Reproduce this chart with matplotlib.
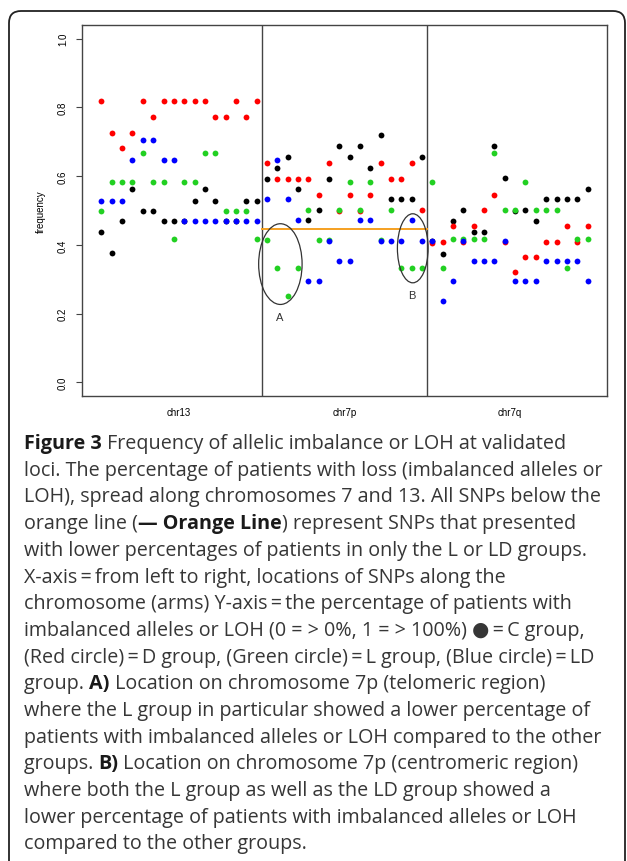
import matplotlib
matplotlib.use("Agg")
import matplotlib.pyplot as plt
import numpy as np
from matplotlib.patches import Ellipse, FancyBboxPatch
from matplotlib.transforms import IdentityTransform

# frequency of allelic imbalance / LOH per SNP, 16 SNPs per arm (chr13, chr7p, chr7q)
arms = ['chr13', 'chr7p', 'chr7q']

c_chr13 = [0.4375, 0.375, 0.47, 0.563, 0.5, 0.5, 0.47, 0.47, 0.47, 0.529, 0.563, 0.529, 0.47, 0.47, 0.529, 0.529]
c_chr7p = [0.593, 0.625, 0.657, 0.563, 0.472, 0.502, 0.593, 0.689, 0.657, 0.689, 0.625, 0.720, 0.533, 0.533, 0.533, 0.657]
c_chr7q = [0.41, 0.374, 0.470, 0.502, 0.438, 0.438, 0.689, 0.594, 0.5, 0.502, 0.470, 0.534, 0.534, 0.534, 0.534, 0.563]

d_chr13 = [0.818, 0.727, 0.682, 0.727, 0.818, 0.773, 0.818, 0.818, 0.818, 0.818, 0.818, 0.773, 0.773, 0.818, 0.773, 0.818]
d_chr7p = [0.638, 0.593, 0.593, 0.593, 0.593, 0.545, 0.638, 0.5, 0.545, 0.5, 0.545, 0.638, 0.593, 0.593, 0.638, 0.502]
d_chr7q = [0.405, 0.409, 0.455, 0.409, 0.455, 0.502, 0.545, 0.409, 0.320, 0.365, 0.365, 0.409, 0.409, 0.455, 0.409, 0.455]

l_chr13 = [0.5, 0.583, 0.583, 0.583, 0.667, 0.583, 0.583, 0.417, 0.583, 0.583, 0.667, 0.667, 0.5, 0.5, 0.5, 0.417]
l_chr7p = [0.414, 0.334, 0.252, 0.334, 0.502, 0.414, 0.414, 0.502, 0.584, 0.502, 0.584, 0.414, 0.502, 0.334, 0.334, 0.334]
l_chr7q = [0.584, 0.334, 0.416, 0.416, 0.416, 0.416, 0.667, 0.502, 0.502, 0.584, 0.502, 0.502, 0.502, 0.334, 0.416, 0.416]

ld_chr13 = [0.529, 0.529, 0.529, 0.647, 0.706, 0.706, 0.647, 0.647, 0.47, 0.47, 0.47, 0.47, 0.47, 0.47, 0.47, 0.47]
ld_chr7p = [0.533, 0.647, 0.533, 0.472, 0.295, 0.295, 0.41, 0.354, 0.354, 0.472, 0.472, 0.41, 0.41, 0.41, 0.472, 0.41]
ld_chr7q = [0.41, 0.237, 0.295, 0.41, 0.354, 0.354, 0.354, 0.41, 0.295, 0.295, 0.295, 0.354, 0.354, 0.354, 0.354, 0.295]

threshold = 0.446   # orange line on chr7p

groups = {
    'C':  (c_chr13 + c_chr7p + c_chr7q, 'black'),
    'D':  (d_chr13 + d_chr7p + d_chr7q, '#ff0000'),
    'L':  (l_chr13 + l_chr7p + l_chr7q, '#22d022'),
    'LD': (ld_chr13 + ld_chr7p + ld_chr7q, '#0000ff'),
}

n_per_arm = len(c_chr13)
x = np.arange(1, 3 * n_per_arm + 1)

fig = plt.figure(figsize=(6.27, 8.62), dpi=100)

# outer rounded frame
frame = FancyBboxPatch((9, -30), 616, 862 - 12 + 30, boxstyle="round,pad=0,rounding_size=12",
                       transform=IdentityTransform(), fill=False, lw=1.3, ec='#222222')
fig.patches.append(frame)

ax = fig.add_axes([82 / 627, 1 - 397 / 862, (607 - 82) / 627, (397 - 26) / 862])
for name, (vals, col) in groups.items():
    ax.plot(x, vals, 'o', ms=4.2, color=col, mec=col, mew=0, zorder=3)

# arm separators and orange line
for b in [n_per_arm + 0.5, 2 * n_per_arm + 0.5]:
    ax.axvline(b, color='#444444', lw=1.0)
ax.plot([n_per_arm + 0.5, 2 * n_per_arm + 0.5], [threshold, threshold], color='#f5a020', lw=1.4, zorder=2)

# regions A and B
ax.add_patch(Ellipse((18.3, 0.344), 4.2, 0.235, fill=False, ec='#333333', lw=0.9, zorder=4))
ax.add_patch(Ellipse((31.1, 0.390), 2.97, 0.201, fill=False, ec='#333333', lw=0.9, zorder=4))
ax.text(18.2, 0.19, 'A', ha='center', va='center', fontsize=8, family='Liberation Sans', color='#333333')
ax.text(31.0, 0.255, 'B', ha='center', va='center', fontsize=8, family='Liberation Sans', color='#333333')

ax.set_xlim(1 - 0.04 * 47, 48 + 0.04 * 47)
ax.set_ylim(-0.04, 1.04)
ax.set_yticks(np.arange(0, 1.01, 0.2))
ax.set_yticklabels(['%.1f' % v for v in np.arange(0, 1.01, 0.2)], rotation=90, va='center',
                   fontsize=7, family='Liberation Sans')
ax.set_xticks([(n_per_arm + 1) / 2 + i * n_per_arm for i in range(3)])
ax.set_xticklabels(arms, fontsize=7, family='Liberation Sans')
ax.tick_params(axis='x', length=0, pad=8)
ax.tick_params(axis='y', length=4, width=0.8, color='#444444', pad=6)
for s in ax.spines.values():
    s.set_color('#444444')
    s.set_linewidth(1.0)
ax.set_ylabel('frequency', fontsize=7, family='Liberation Sans', labelpad=9)

# caption, mixed weights, placed piece by piece
caption = [
    [('Figure 3', True), (' Frequency of allelic imbalance or LOH at validated', False)],
    [('loci. The percentage of patients with loss (imbalanced alleles or', False)],
    [('LOH), spread along chromosomes 7 and 13. All SNPs below the', False)],
    [('orange line (', False), ('\u2014 Orange Line', True), (') represent SNPs that presented', False)],
    [('with lower percentages of patients in only the L or LD groups.', False)],
    [('X-axis\u2009=\u2009from left to right, locations of SNPs along the', False)],
    [('chromosome (arms) Y-axis\u2009=\u2009the percentage of patients with', False)],
    [('imbalanced alleles or LOH (0 = > 0%, 1 = > 100%) \u25cf\u2009=\u2009C group,', False)],
    [('(Red circle)\u2009=\u2009D group, (Green circle)\u2009=\u2009L group, (Blue circle)\u2009=\u2009LD', False)],
    [('group. ', False), ('A)', True), (' Location on chromosome 7p (telomeric region)', False)],
    [('where the L group in particular showed a lower percentage of', False)],
    [('patients with imbalanced alleles or LOH compared to the other', False)],
    [('groups. ', False), ('B)', True), (' Location on chromosome 7p (centromeric region)', False)],
    [('where both the L group as well as the LD group showed a', False)],
    [('lower percentage of patients with imbalanced alleles or LOH', False)],
    [('compared to the other groups.', False)],
]

fig.canvas.draw()
rend = fig.canvas.get_renderer()
cap_fam = ['Open Sans', 'DejaVu Sans']
cap_size = 14.2
y0, dy = 444, 26.7
for i, line in enumerate(caption):
    xpix = 24
    ypix = 862 - (y0 + i * dy)
    for txt, bold in line:
        t = fig.text(xpix / 627, ypix / 862, txt, fontsize=cap_size, family=cap_fam,
                     weight='bold' if bold else 'normal', va='center', ha='left',
                     color='#1a1a1a' if bold else '#363636')
        xpix += t.get_window_extent(rend).width

fig.savefig('out.png', dpi=100)
